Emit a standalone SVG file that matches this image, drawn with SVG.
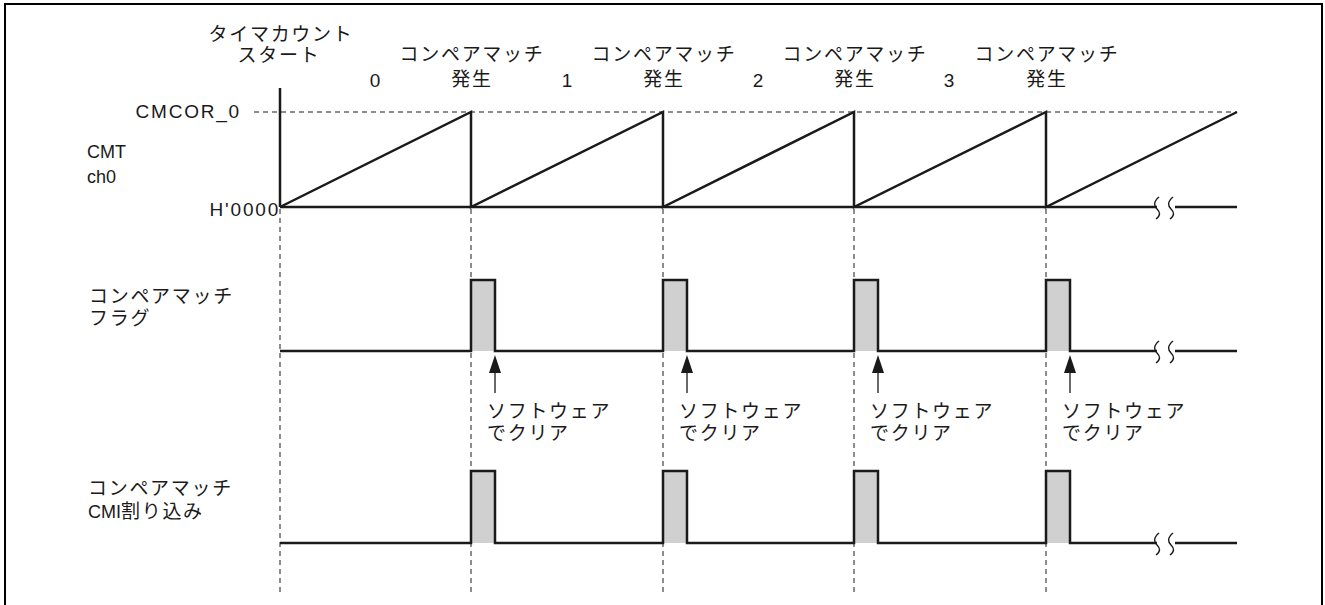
<svg xmlns="http://www.w3.org/2000/svg" width="1325" height="605" viewBox="0 0 1325 605">
<style>
  text { font-family: "Liberation Sans", "Noto Sans CJK JP", sans-serif; font-size: 18px; fill: #1a1a1a; }
  .jp { font-size: 19px; letter-spacing: 1.7px; }
  .ls { font-size: 19px; letter-spacing: 1.8px; }
  .num { font-size: 19px; }
  .mid { text-anchor: middle; }
  .end { text-anchor: end; }
  .wave { fill: none; stroke: #1a1a1a; stroke-width: 2.5; stroke-linejoin: miter; }
  .dash { fill: none; stroke: #1a1a1a; stroke-width: 1; stroke-dasharray: 5 4; }
  .brk { fill: none; stroke: #1a1a1a; stroke-width: 1.4; }
  .pulse { fill: #d0d0d0; stroke: none; }
  .arr { stroke: #1a1a1a; stroke-width: 1.3; fill: none; }
  .head { fill: #1a1a1a; }
</style>
<defs>
  <path id="brk" class="brk" d="M2,-10 C-4,-5 -3,-1 0,2 C3,5 4,8 -1,12 M16,-10 C10,-5 11,-1 14,2 C17,5 18,8 13,12"/>
  <g id="arrow">
    <line class="arr" x1="0" y1="393" x2="0" y2="370"/>
    <polygon class="head" points="0,355 -6,373 6,373"/>
  </g>
</defs>

<rect x="5" y="4" width="1317" height="620" fill="none" stroke="#000" stroke-width="2"/>

<g id="labels-top">
  <text class="jp mid" x="281" y="41">タイマカウント</text>
  <text class="jp mid" x="279" y="62">スタート</text>
  <text class="num mid" x="375" y="87">0</text>
  <text class="num mid" x="567" y="87">1</text>
  <text class="num mid" x="758" y="87">2</text>
  <text class="num mid" x="949" y="87">3</text>
  <text class="jp mid" x="472" y="61">コンペアマッチ</text>
  <text class="jp mid" x="472" y="86">発生</text>
  <text class="jp mid" x="664" y="61">コンペアマッチ</text>
  <text class="jp mid" x="664" y="86">発生</text>
  <text class="jp mid" x="855" y="61">コンペアマッチ</text>
  <text class="jp mid" x="855" y="86">発生</text>
  <text class="jp mid" x="1047" y="61">コンペアマッチ</text>
  <text class="jp mid" x="1047" y="86">発生</text>
</g>

<g id="cmt-ch0">
  <text x="87" y="158" font-size="17.5">CMT</text>
  <text x="87" y="183" font-size="17.5">ch0</text>
  <text class="ls end" x="241" y="118">CMCOR_0</text>
  <text class="ls end" x="280" y="216">H'0000</text>
  <path class="dash" d="M254,112 H1237"/>
  <path class="wave" d="M280,88 V207 M280,207 H1157 M1175,207 H1237"/>
  <path class="wave" d="M280,207 L471,112 V207 L663,112 V207 L854,112 V207 L1046,112 V207 L1237,112"/>
  <use href="#brk" x="1157" y="207"/>
</g>

<g id="connectors">
  <path class="dash" d="M280,209 V592 M471,209 V592 M663,209 V592 M854,209 V592 M1046,209 V592"/>
  <use href="#arrow" x="495"/>
  <use href="#arrow" x="687"/>
  <use href="#arrow" x="878"/>
  <use href="#arrow" x="1070"/>
</g>

<g id="flag">
  <text class="jp" x="89" y="303">コンペアマッチ</text>
  <text class="jp" x="89" y="325">フラグ</text>
  <rect class="pulse" x="471" y="280" width="24" height="71"/>
  <rect class="pulse" x="663" y="280" width="24" height="71"/>
  <rect class="pulse" x="854" y="280" width="24" height="71"/>
  <rect class="pulse" x="1046" y="280" width="24" height="71"/>
  <path class="wave" d="M280,351 H471 V280 H495 V351 H663 V280 H687 V351 H854 V280 H878 V351 H1046 V280 H1070 V351 H1157 M1175,351 H1237"/>
  <use href="#brk" x="1157" y="351"/>
</g>

<g id="clear-labels">
  <text class="jp" x="487" y="418">ソフトウェア</text>
  <text class="jp" x="487" y="440">でクリア</text>
  <text class="jp" x="679" y="418">ソフトウェア</text>
  <text class="jp" x="679" y="440">でクリア</text>
  <text class="jp" x="870" y="418">ソフトウェア</text>
  <text class="jp" x="870" y="440">でクリア</text>
  <text class="jp" x="1062" y="418">ソフトウェア</text>
  <text class="jp" x="1062" y="440">でクリア</text>
</g>

<g id="cmi">
  <text class="jp" x="88" y="495">コンペアマッチ</text>
  <text x="88" y="518"><tspan>CMI</tspan><tspan class="jp">割り込み</tspan></text>
  <rect class="pulse" x="471" y="471" width="24" height="72"/>
  <rect class="pulse" x="663" y="471" width="24" height="72"/>
  <rect class="pulse" x="854" y="471" width="24" height="72"/>
  <rect class="pulse" x="1046" y="471" width="24" height="72"/>
  <path class="wave" d="M280,543 H471 V471 H495 V543 H663 V471 H687 V543 H854 V471 H878 V543 H1046 V471 H1070 V543 H1157 M1175,543 H1237"/>
  <use href="#brk" x="1157" y="543"/>
</g>
</svg>
